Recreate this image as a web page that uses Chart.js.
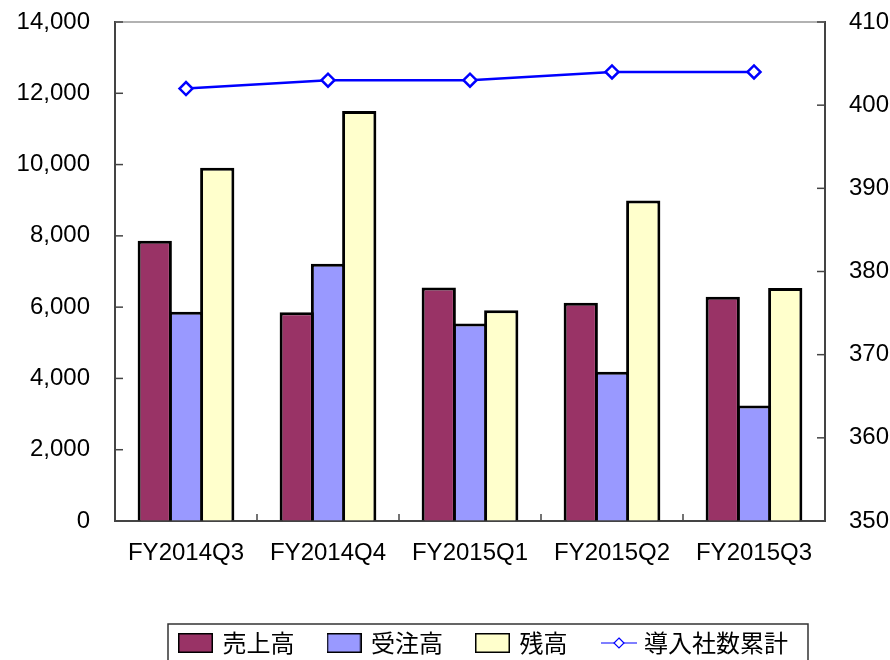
<!DOCTYPE html>
<html>
<head>
<meta charset="utf-8">
<script src="https://cdn.jsdelivr.net/npm/chart.js@4/dist/chart.umd.min.js"></script>
<style>
  html, body { margin: 0; padding: 0; background: #fff; }
  #wrap { width: 890px; height: 660px; }
</style>
</head>
<body>
<div id="wrap"><canvas id="chart"></canvas></div>
<script>
// values
const categories = ["FY2014Q3", "FY2014Q4", "FY2015Q1", "FY2015Q2", "FY2015Q3"];
const sales = [7860, 5860, 6550, 6120, 6290];      // 売上高
const orders = [5870, 7220, 5540, 4190, 3240];     // 受注高
const backlog = [9910, 11500, 5910, 8990, 6540];   // 残高
const companies = [402, 403, 403, 404, 404];       // 導入社数累計
const leftTicks = [0, 14000, 2000];   // min, max, step
const rightTicks = [350, 410, 10];

const seriesNames = ["売上高", "受注高", "残高", "導入社数累計"];
const barColors = ["#993366", "#9999FF", "#FFFFCC"];
const lineColor = "#0000FF";

// legend symbols
function boxSymbol(color) {
    const c = document.createElement('canvas');
    c.width = 35; c.height = 20;
    const g = c.getContext('2d');
    g.fillStyle = color;
    g.fillRect(0, 0, 35, 20);
    g.strokeStyle = '#000';
    g.lineWidth = 1.5;
    g.strokeRect(0.75, 0.75, 33.5, 18.5);
    return c;
}
function lineSymbol() {
    const c = document.createElement('canvas');
    c.width = 40; c.height = 20;
    const g = c.getContext('2d');
    g.strokeStyle = lineColor;
    g.lineWidth = 1.2;
    g.beginPath(); g.moveTo(4, 10); g.lineTo(40, 10); g.stroke();
    g.fillStyle = '#fff';
    g.beginPath();
    g.moveTo(22, 5); g.lineTo(27, 10); g.lineTo(22, 15); g.lineTo(17, 10); g.closePath();
    g.fill(); g.stroke();
    return c;
}

// inward tick marks, top frame, legend border, legend placement
const decorations = {
    id: 'decorations',
    afterLayout(chart) {
        const lg = chart.legend;
        const dx = 78.5 - lg.left;
        lg.left += dx;
        lg.top += 5;
        lg.bottom += 5;
    },
    afterDraw(chart) {
        const { ctx, chartArea: a, scales } = chart;
        ctx.save();
        const seg = (x1, y1, x2, y2) => { ctx.beginPath(); ctx.moveTo(x1, y1); ctx.lineTo(x2, y2); ctx.stroke(); };
        ctx.strokeStyle = '#999';
        ctx.lineWidth = 1.5;
        seg(a.left, a.top, a.right, a.top);
        ctx.strokeStyle = '#444';
        scales.y.ticks.forEach((t, i) => {
            const y = scales.y.getPixelForTick(i);
            seg(a.left, y, a.left + 8, y);
        });
        scales.y2.ticks.forEach((t, i) => {
            const y = scales.y2.getPixelForTick(i);
            seg(a.right - 8, y, a.right, y);
        });
        for (let i = 0; i < categories.length - 1; i++) {
            const x = (scales.x.getPixelForTick(i) + scales.x.getPixelForTick(i + 1)) / 2;
            seg(x, a.bottom, x, a.bottom - 7);
        }
        const boxes = chart.legend.legendHitBoxes;
        if (boxes && boxes.length) {
            const left = Math.min(...boxes.map(b => b.left)) - 12.5;
            const right = Math.max(...boxes.map(b => b.left + b.width)) + 20;
            const top = boxes[0].top - 7;
            ctx.strokeStyle = '#333';
            ctx.lineWidth = 1.5;
            ctx.strokeRect(left, top, right - left, 80);
        }
        ctx.restore();
    }
};

const barSet = (label, data, color) => ({
    type: 'bar',
    label: label,
    data: data,
    backgroundColor: color,
    borderColor: '#000',
    borderWidth: 3,
    yAxisID: 'y',
    categoryPercentage: 0.66,
    barPercentage: 1.096,
    order: 1,
});

const ctx = document.getElementById('chart');
new Chart(ctx, {
    data: {
        labels: categories,
        datasets: [
            barSet(seriesNames[0], sales, barColors[0]),
            barSet(seriesNames[1], orders, barColors[1]),
            barSet(seriesNames[2], backlog, barColors[2]),
            {
                type: 'line',
                label: seriesNames[3],
                data: companies,
                yAxisID: 'y2',
                borderColor: lineColor,
                borderWidth: 2.5,
                pointStyle: 'rectRot',
                pointRadius: 6.5,
                pointBorderWidth: 2.5,
                pointBackgroundColor: '#fff',
                pointBorderColor: lineColor,
                tension: 0,
                order: 0,
            }
        ]
    },
    options: {
        responsive: true,
        maintainAspectRatio: false,
        animation: false,
        layout: { padding: { top: 22, left: 0, right: 0, bottom: 0 } },
        scales: {
            x: {
                offset: true,
                grid: { display: true, drawOnChartArea: false, drawTicks: false },
                border: { display: true, color: '#444', width: 2 },
                ticks: { color: '#000', padding: 18, font: { family: 'Liberation Sans', size: 24 }, maxRotation: 0 },
                afterFit: (s) => { s.height = 70.5; },
            },
            y: {
                position: 'left',
                min: leftTicks[0],
                max: leftTicks[1],
                grid: { display: true, drawOnChartArea: false, drawTicks: false },
                border: { display: true, color: '#444', width: 2 },
                ticks: {
                    stepSize: leftTicks[2],
                    color: '#000',
                    padding: 25,
                    font: { family: 'Liberation Sans', size: 24 },
                    callback: (v) => v.toLocaleString('en-US'),
                },
                afterFit: (s) => { s.width = 115; s.paddingTop = 0; s.paddingBottom = 0; },
            },
            y2: {
                position: 'right',
                min: rightTicks[0],
                max: rightTicks[1],
                grid: { display: true, drawOnChartArea: false, drawTicks: false },
                border: { display: true, color: '#444', width: 2 },
                ticks: {
                    stepSize: rightTicks[2],
                    color: '#000',
                    padding: 24,
                    font: { family: 'Liberation Sans', size: 24 },
                },
                afterFit: (s) => { s.width = 65; s.paddingTop = 0; s.paddingBottom = 0; },
            },
        },
        plugins: {
            tooltip: { enabled: false },
            legend: {
                display: true,
                position: 'bottom',
                labels: {
                    usePointStyle: true,
                    pointStyleWidth: 30,
                    padding: 34.5,
                    color: '#000',
                    font: { family: 'Noto Sans CJK JP', size: 24 },
                    generateLabels: () => [
                        { text: seriesNames[0], pointStyle: boxSymbol(barColors[0]), datasetIndex: 0, fontColor: '#000' },
                        { text: seriesNames[1], pointStyle: boxSymbol(barColors[1]), datasetIndex: 1, fontColor: '#000' },
                        { text: seriesNames[2], pointStyle: boxSymbol(barColors[2]), datasetIndex: 2, fontColor: '#000' },
                        { text: seriesNames[3], pointStyle: lineSymbol(), datasetIndex: 3, fontColor: '#000' },
                    ],
                },
            },
        },
    },
    plugins: [decorations],
});
</script>
</body>
</html>
